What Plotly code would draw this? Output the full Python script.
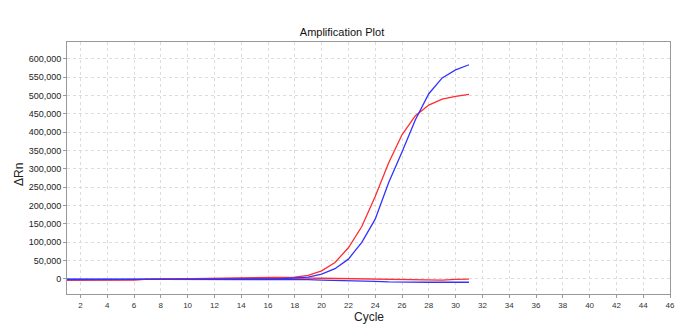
import plotly.graph_objects as go

# Amplification data (ΔRn per cycle) for two amplifying wells and two flat wells
cycles = list(range(1, 32))

red_amp = [-3000, -3000, -3000, -3000, -3000, -2500, -1000, -500, 0, 0,
           1000, 1500, 1500, 1500, 1500, 2000, 3000, 5000, 10000, 22000,
           45000, 85000, 143000, 225000, 316000, 393000, 445000, 474000, 490000, 498000,
           503000]
blue_amp = [-1500, -1500, -1500, -1500, -1500, -1500, -500, -500, -500, -500,
            0, 0, 0, 0, 0, 500, 1000, 2000, 5000, 13000,
            28000, 54000, 100000, 163000, 262000, 346000, 434000, 505000, 548000, 570000,
            584000]
red_flat = [-3000, -3000, -3000, -3000, -3000, -3000, -500, -500, -500, -500,
            1500, 1500, 1500, 1500, 1500, 1500, 2000, 3000, 2500, 2000,
            1500, 1000, -500, -1000, -2500, -3000, -3000, -3000, -3000, -1000,
            -500]
blue_flat = [-500, -500, -500, -500, -500, -500, -500, -500, -500, -500,
             -500, -500, -500, -500, -500, -500, -500, -1000, -2000, -3000,
             -3500, -5000, -6000, -6500, -8000, -9000, -9000, -9000, -9000, -9000,
             -9000]

x_ticks = list(range(2, 48, 2))
y_ticks = list(range(0, 650000, 50000))
y_labels = [f"{v:,}" for v in y_ticks]

RED = "rgb(255,45,45)"
BLUE = "rgb(50,50,255)"

W, H = 684, 325
ML, MR, MT, MB = 67, 14, 42, 31
PW, PH = W - ML - MR, H - MT - MB

fig = go.Figure()
for ys, col in [(red_flat, RED), (blue_flat, BLUE), (red_amp, RED), (blue_amp, BLUE)]:
    fig.add_trace(go.Scatter(x=cycles, y=ys, mode="lines",
                             line=dict(color=col, width=1.3),
                             showlegend=False, hoverinfo="skip"))

fig.update_layout(
    width=W, height=H,
    margin=dict(l=ML, r=MR, t=MT, b=MB),
    paper_bgcolor="white", plot_bgcolor="white",
    font=dict(family="Liberation Sans, Arial, sans-serif", color="#222"),
    title=dict(text="Amplification Plot", x=0.5, xanchor="center",
               y=1 - 32 / H, yanchor="middle",
               font=dict(size=11, color="#111")),
    showlegend=False,
)

# axis titles placed in pixel terms relative to the plot area
fig.add_annotation(text="Cycle", xref="paper", yref="paper",
                   x=0.5, y=-(317 - (MT + PH)) / PH, xanchor="center", yanchor="middle",
                   showarrow=False, font=dict(size=12, color="#222"))
fig.add_annotation(text="ΔRn", xref="paper", yref="paper",
                   x=-(ML - 19) / PW, y=(MT + PH - 175) / PH, xanchor="center", yanchor="middle",
                   textangle=-90, showarrow=False, font=dict(size=12, color="#222"))

fig.update_xaxes(
    range=[1, 46], tickvals=x_ticks, ticktext=[str(v) for v in x_ticks],
    tickfont=dict(size=8, color="#333"),
    showgrid=True, gridcolor="#dcdcdc", griddash="dot", gridwidth=1,
    showline=True, linecolor="#999", linewidth=1, mirror=True,
    ticks="outside", ticklen=3, tickcolor="#999",
    zeroline=False, automargin=False,
)
fig.update_yaxes(
    range=[-41000, 646000], tickvals=y_ticks, ticktext=y_labels,
    tickfont=dict(size=9, color="#222"),
    showgrid=True, gridcolor="#dcdcdc", griddash="dot", gridwidth=1,
    showline=True, linecolor="#999", linewidth=1, mirror=True,
    ticks="outside", ticklen=3, tickcolor="#999",
    zeroline=False, automargin=False,
)

fig.write_html("out.html")
